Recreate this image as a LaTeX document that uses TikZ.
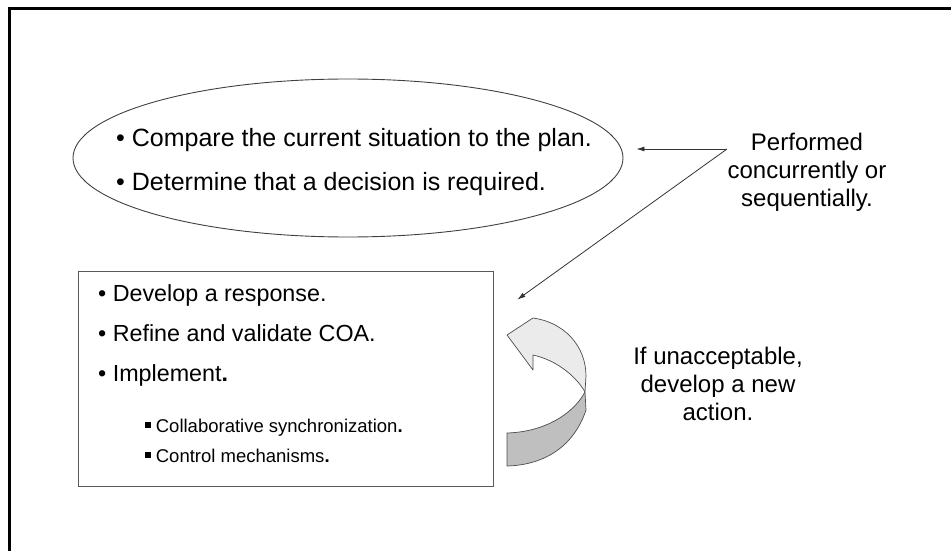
\documentclass[tikz,border=0pt]{standalone}
\usepackage{fontspec}
\setmainfont{Liberation Sans}
\usetikzlibrary{shapes.geometric,arrows.meta}
\begin{document}
\begin{tikzpicture}[x=1pt,y=-1pt,
  frameline/.style={line width=3pt,black},
  ovalline/.style={draw=black!75,line width=0.9pt},
  boxline/.style={draw=black!65,line width=0.9pt},
  pointer/.style={draw=black!80,line width=0.8pt,-{Latex[length=8pt,width=5pt]}},
  ovaltext/.style={font=\fontsize{25}{30}\selectfont,inner sep=0pt,anchor=base west},
  itemtext/.style={font=\fontsize{23.3}{28}\selectfont,inner sep=0pt,anchor=base west},
  subtext/.style={font=\fontsize{18.5}{22}\selectfont,inner sep=0pt,anchor=base west},
  notetext/.style={font=\fontsize{24}{28}\selectfont,inner sep=0pt,align=center,anchor=base},
  ribbon/.style={draw=black!70,line width=0.7pt,line join=round},
]
\useasboundingbox (0,0) rectangle (951,551);

% page frame (top and left edges)
\draw[frameline] (9,551) -- (9,9) -- (951,9);

% assessment oval
\node[ellipse,ovalline,minimum width=550pt,minimum height=158pt,inner sep=0pt] (assess) at (348,158) {};
\node[ovaltext] (cmp) at (116,146) {• Compare the current situation to the plan.};
\node[ovaltext] (det) at (116,190) {• Determine that a decision is required.};

% response box
\node[boxline,minimum width=415pt,minimum height=215pt,inner sep=0pt] (respond) at (285.5,378.5) {};
\node[itemtext] (dev) at (98,301) {• Develop a response.};
\node[itemtext] (ref) at (98,341) {• Refine and validate COA.};
\node[itemtext] (imp) at (98,381) {• Implement\textbf{.}};
\newcommand\sqbullet{\raisebox{0.22em}{\rule{0.3em}{0.3em}}}
\node[subtext] (col) at (145,432) {\sqbullet\ Collaborative synchronization\textbf{.}};
\node[subtext] (ctl) at (145,462) {\sqbullet\ Control mechanisms\textbf{.}};

% side notes (anchored on the baseline of their last line)
\node[notetext] (perf) at (807,206) {Performed\\concurrently or\\sequentially.};
\node[notetext] (retry) at (718,420) {If unacceptable,\\develop a new\\action.};

% pointers from the note
\coordinate (fork) at (727,149);
\coordinate (boxtip) at ([xshift=24pt,yshift=-29pt]respond.north east);
\draw[pointer] (fork) -- ([xshift=13pt]fork -| assess.east);
\draw[pointer] (fork) -- (boxtip);

% U-turn ribbon arrow: back face, then front face
\draw[ribbon,fill=black!25] (507,433) .. controls (542,432) and (572,416) .. (585,392)
  -- (586,410) .. controls (574,446) and (545,465) .. (507,466) -- cycle;
\draw[ribbon,fill=black!8] (507,335) -- (533,318) .. controls (563,322) and (586,345) .. (586,376)
  -- (585,392) .. controls (576,376) and (556,360) .. (533,355) -- (533,370) -- cycle;
\end{tikzpicture}
\end{document}
